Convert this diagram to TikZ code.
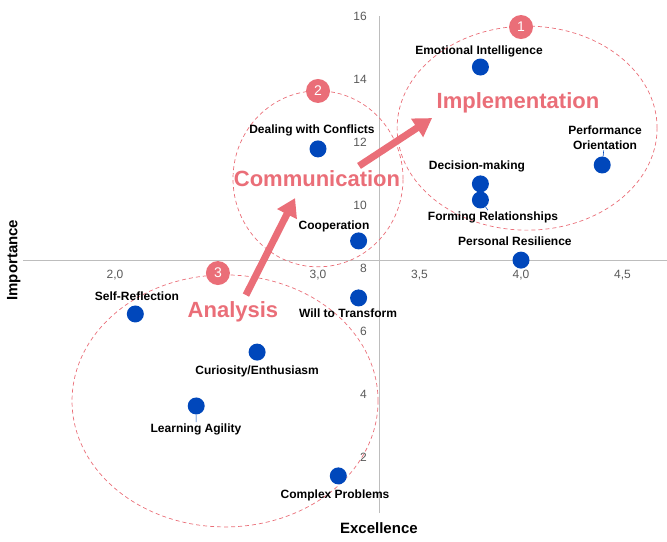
\documentclass[tikz,border=0pt]{standalone}
\usepackage{fontspec}
\setmainfont{Liberation Sans}
\usepackage{xcolor}
\usepackage{tikz}
\usetikzlibrary{shapes.geometric, arrows, arrows.meta, positioning}

\definecolor{rose}{HTML}{EA6E78}
\definecolor{dotblue}{HTML}{0047BB}
\definecolor{axisgray}{HTML}{BDBDBD}
\definecolor{tickgray}{HTML}{595959}

\begin{document}
\begin{tikzpicture}[x=203pt, y=31.5pt]
    % Styles
    \tikzstyle{dot} = [circle, fill=dotblue, minimum size=17pt, inner sep=0pt]
    \tikzstyle{label} = [font=\fontsize{12}{14}\selectfont\bfseries, align=center, inner sep=1pt]
    \tikzstyle{tick} = [font=\fontsize{12}{14}\selectfont, text=tickgray, inner sep=1pt]
    \tikzstyle{group} = [ellipse, draw=rose, dashed, line width=0.7pt, dash pattern=on 4pt off 3pt]
    \tikzstyle{badge} = [circle, fill=rose, minimum size=24pt, inner sep=0pt, text=white, font=\fontsize{14}{16}\selectfont]
    \tikzstyle{phase} = [text=rose, font=\fontsize{22}{26}\selectfont\bfseries, inner sep=0pt]
    \tikzstyle{arrow} = [line width=7pt, draw=rose, -{Triangle[length=18pt, width=21pt]}]
    \tikzstyle{leader} = [draw=dotblue, line width=0.6pt]

    \useasboundingbox (1.4335,-0.6667) rectangle (4.7192,16.508);

    % Axes
    \draw [axisgray, line width=0.8pt] (1.547,8.25) -- (4.7192,8.25);
    \draw [axisgray, line width=0.8pt] (3.3,0.222) -- (3.3,16);
    \foreach \v in {2,4,6,8,10,12,14,16}
        \node [tick, anchor=east] at (3.246,\v) {\v};
    \foreach \v/\t in {2/{2,0}, 3/{3,0}, 3.5/{3,5}, 4/{4,0}, 4.5/{4,5}}
        \node [tick] at (\v,7.78) {\t};
    \node (xtitle) [font=\fontsize{15}{18}\selectfont\bfseries] at (3.3,-0.26) {Excellence};
    \node (ytitle) [font=\fontsize{15}{18}\selectfont\bfseries, rotate=90] at (1.501,8.25) {Importance};

    % Groups
    \node (grpimpl) [group, minimum width=260pt, minimum height=204pt] at (4.03,12.44) {};
    \node (grpcomm) [group, minimum width=170pt, minimum height=176pt] at (3.0,10.83) {};
    \node (grpanal) [group, minimum width=306pt, minimum height=252pt] at (2.542,3.78) {};

    % Points
    \node (emo) [dot] at (3.8,14.38) {};
    \node (deal) [dot] at (3.0,11.78) {};
    \node (coop) [dot] at (3.2,8.86) {};
    \node (perf) [dot] at (4.4,11.27) {};
    \node (deci) [dot] at (3.8,10.67) {};
    \node (form) [dot] at (3.8,10.16) {};
    \node (resi) [dot] at (4.0,8.25) {};
    \node (will) [dot] at (3.2,7.05) {};
    \node (self) [dot] at (2.1,6.54) {};
    \node (curi) [dot] at (2.7,5.33) {};
    \node (lear) [dot] at (2.4,3.62) {};
    \node (comp) [dot] at (3.1,1.40) {};

    % Labels
    \node (emolbl) [label] at (3.793,14.89) {Emotional Intelligence};
    \node (deallbl) [label] at (2.970,12.38) {Dealing with Conflicts};
    \node (cooplbl) [label] at (3.079,9.33) {Cooperation};
    \node (perflbl) [label, font=\fontsize{12}{14.5}\selectfont\bfseries] at (4.414,12.14) {Performance\\Orientation};
    \node (decilbl) [label] at (3.783,11.24) {Decision-making};
    \node (formlbl) [label] at (3.862,9.62) {Forming Relationships};
    \node (resilbl) [label] at (3.970,8.86) {Personal Resilience};
    \node (willlbl) [label] at (3.148,6.57) {Will to Transform};
    \node (selflbl) [label] at (2.108,7.11) {Self-Reflection};
    \node (curilbl) [label] at (2.700,4.73) {Curiosity/Enthusiasm};
    \node (learlbl) [label] at (2.399,2.89) {Learning Agility};
    \node (complbl) [label] at (3.084,0.79) {Complex Problems};

    % Leaders
    \draw [leader] (lear) -- (learlbl);
    \draw [leader] (perf) -- (perflbl);
    \draw [leader] (form) -- (formlbl);

    % Badges and phases
    \node (one) [badge] at (4.0,15.65) {1};
    \node (two) [badge] at (3.0,13.62) {2};
    \node (three) [badge] at (2.507,7.84) {3};
    \node (impl) [phase] at (3.985,13.24) {Implementation};
    \node (comm) [phase] at (2.995,10.83) {Communication};
    \node (anal) [phase] at (2.581,6.60) {Analysis};

    % Arrows
    \coordinate (analtail) at (2.645,7.14);
    \coordinate (commhead) at (2.887,10.22);
    \coordinate (commtail) at (3.202,11.24);
    \coordinate (implhead) at (3.562,12.76);
    \draw [arrow] (analtail) -- (commhead);
    \draw [arrow] (commtail) -- (implhead);
\end{tikzpicture}
\end{document}
